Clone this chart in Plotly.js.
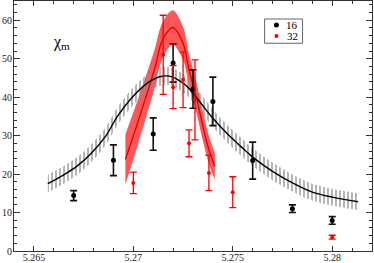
<!DOCTYPE html>
<html>
<head>
<meta charset="utf-8">
<script src="https://cdn.plot.ly/plotly-3.0.1.min.js"></script>
<style>html,body{margin:0;padding:0;background:#fff}#chart{width:374px;height:263px}</style>
</head>
<body>
<div id="chart"></div>
<script>
// series names
const seriesNames = ["16", "32"];

// data points, L=16 (black)
const x16 = [5.267, 5.269, 5.271, 5.272, 5.273, 5.274, 5.276, 5.278, 5.280];
const y16 = [14.4, 23.6, 30.4, 48.9, 42.1, 38.9, 23.5, 11.0, 7.95];
const e16 = [1.3, 4.0, 4.2, 5.0, 5.0, 6.3, 4.8, 1.0, 1.0];

// data points, L=32 (red)
const x32 = [5.270, 5.2715, 5.272, 5.2725, 5.2728, 5.2731, 5.2738, 5.275, 5.280];
const y32 = [17.7, 51.0, 42.6, 44.5, 28.0, 39.3, 20.3, 15.3, 3.6];
const e32 = [2.8, 10.3, 5.6, 7.2, 3.5, 10.4, 4.6, 4.0, 0.5];

// reweighting curve, L=16 (black line with hatched band)
const cx16 = [5.2657, 5.2665, 5.2672, 5.2679, 5.2686, 5.2692, 5.2699, 5.2705, 5.2710, 5.2715, 5.2720, 5.2723, 5.2727, 5.2734, 5.2740, 5.2747, 5.2754, 5.2760, 5.2770, 5.2780, 5.2790, 5.2800, 5.2813];
const cy16 = [17.5, 19.8, 22.2, 25.5, 29.8, 35.0, 39.7, 42.8, 44.6, 45.5, 45.2, 44.3, 42.8, 38.4, 34.5, 30.6, 27.2, 24.4, 20.7, 17.7, 15.3, 14.0, 12.8];
const ce16 = [2.3, 2.3, 2.3, 2.3, 2.3, 2.3, 2.3, 2.3, 2.4, 2.4, 2.4, 2.4, 2.4, 2.4, 2.3, 2.3, 2.3, 2.3, 2.3, 2.2, 2.2, 2.2, 2.2];

// reweighting curve, L=32 (red line with solid band)
const cx32 = [5.2696, 5.2701, 5.2706, 5.2711, 5.2714, 5.2718, 5.2720, 5.2725, 5.2728, 5.2732, 5.2735, 5.2738, 5.2741];
const cy32 = [23.8, 31.5, 39.5, 47.9, 54.0, 57.5, 58.1, 54.0, 47.1, 39.3, 32.4, 26.3, 22.0];
const ce32 = [6.5, 6.0, 5.5, 5.0, 4.7, 4.5, 4.5, 4.3, 4.1, 4.0, 3.8, 3.6, 3.5];

// tick labels
const xTickVals = [5.265, 5.27, 5.275, 5.28];
const xTickText = ["5.265", "5.27", "5.275", "5.28"];
const yTickVals = [0, 10, 20, 30, 40, 50, 60];
const yTickText = ["0", "10", "20", "30", "40", "50", "60"];

const yLabel = "χ<sub>m</sub>";

const serif = '"Liberation Serif", "Times New Roman", serif';
const up = (y, e) => y.map((v, i) => v + e[i]);
const lo = (y, e) => y.map((v, i) => v - e[i]);

const traces = [
  // red band
  {x: cx32, y: lo(cy32, ce32), mode: "lines", line: {width: 0, shape: "spline"}, hoverinfo: "skip", showlegend: false},
  {x: cx32, y: up(cy32, ce32), mode: "lines", line: {width: 0, shape: "spline"}, fill: "tonexty",
   fillcolor: "rgba(255,40,40,0.78)", hoverinfo: "skip", showlegend: false},
  // black hatched band
  {x: cx16, y: lo(cy16, ce16), mode: "lines", line: {width: 0, shape: "spline"}, hoverinfo: "skip", showlegend: false},
  {x: cx16, y: up(cy16, ce16), mode: "lines", line: {width: 0, shape: "spline"}, fill: "tonexty",
   fillcolor: "rgba(0,0,0,0)",
   fillpattern: {shape: "|", size: 4, solidity: 0.32, fgcolor: "#8a8a8a", bgcolor: "rgba(0,0,0,0)"},
   hoverinfo: "skip", showlegend: false},
  // curve lines
  {x: cx32, y: cy32, mode: "lines", line: {color: "#d80000", width: 1.3, shape: "spline"}, showlegend: false},
  {x: cx16, y: cy16, mode: "lines", line: {color: "#000", width: 1.4, shape: "spline"}, showlegend: false},
  // data points
  {x: x16, y: y16, name: seriesNames[0], mode: "markers",
   marker: {color: "#000", size: 5, symbol: "circle"},
   error_y: {type: "data", array: e16, visible: true, color: "#111", thickness: 1.6, width: 3.5},
   showlegend: false},
  {x: x32, y: y32, name: seriesNames[1], mode: "markers",
   marker: {color: "#ff0000", size: 4, symbol: "circle"},
   error_y: {type: "data", array: e32, visible: true, color: "#ff0000", thickness: 1.3, width: 3.5},
   showlegend: false}
];

// manual legend (compact box like the original)
const lgX0 = 0.700, lgX1 = 0.806, lgY0 = 0.831, lgY1 = 0.928;
const shapes = [
  {type: "rect", xref: "paper", yref: "paper", x0: lgX0, x1: lgX1, y0: lgY0, y1: lgY1,
   line: {color: "#666", width: 1}, fillcolor: "#fff"},
  {type: "circle", xref: "paper", yref: "paper", xsizemode: "pixel", ysizemode: "pixel",
   xanchor: 0.733, yanchor: 0.904, x0: -2.5, x1: 2.5, y0: -2.5, y1: 2.5,
   fillcolor: "#000", line: {width: 0}},
  {type: "circle", xref: "paper", yref: "paper", xsizemode: "pixel", ysizemode: "pixel",
   xanchor: 0.733, yanchor: 0.860, x0: -2, x1: 2, y0: -2, y1: 2,
   fillcolor: "#ff0000", line: {width: 0}}
];

const annotations = [
  {xref: "paper", yref: "paper", x: 0.104, y: 0.835, xanchor: "left", yanchor: "middle",
   text: yLabel, showarrow: false, font: {family: serif, size: 16, color: "#000"}},
  {xref: "paper", yref: "paper", x: 0.798, y: 0.904, xanchor: "right", yanchor: "middle",
   text: seriesNames[0], showarrow: false, font: {family: serif, size: 11, color: "#000"}},
  {xref: "paper", yref: "paper", x: 0.798, y: 0.860, xanchor: "right", yanchor: "middle",
   text: seriesNames[1], showarrow: false, font: {family: serif, size: 11, color: "#000"}}
];

const axisCommon = {
  showline: true, linecolor: "#333", linewidth: 1, mirror: "ticks",
  ticks: "inside", tickcolor: "#333", tickwidth: 1, showgrid: false, zeroline: false,
  tickfont: {family: serif, size: 10, color: "#222"}, automargin: false
};

const layout = {
  width: 374, height: 263,
  margin: {l: 14, r: 2, t: 1, b: 12, pad: 0},
  paper_bgcolor: "#fff", plot_bgcolor: "#fff",
  showlegend: false,
  font: {family: serif},
  xaxis: Object.assign({}, axisCommon, {
    range: [5.264, 5.282], tickmode: "array", tickvals: xTickVals, ticktext: xTickText, ticklen: 5,
    ticklabelstandoff: -3,
    minor: {tickmode: "linear", tick0: 5.264, dtick: 0.001, ticks: "inside", ticklen: 3, tickcolor: "#333", tickwidth: 1, showgrid: false}
  }),
  yaxis: Object.assign({}, axisCommon, {
    range: [0, 65], tickmode: "array", tickvals: yTickVals, ticktext: yTickText, ticklen: 6,
    ticklabelstandoff: -1,
    minor: {tickmode: "linear", tick0: 0, dtick: 2, ticks: "inside", ticklen: 3, tickcolor: "#333", tickwidth: 1, showgrid: false}
  }),
  shapes: shapes,
  annotations: annotations
};

Plotly.newPlot("chart", traces, layout, {displayModeBar: false, staticPlot: true});
</script>
</body>
</html>
